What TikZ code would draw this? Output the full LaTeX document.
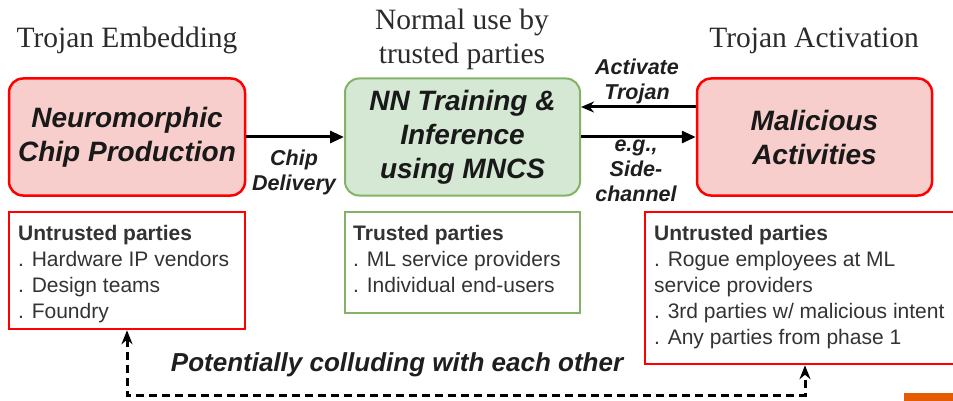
\documentclass[tikz,border=0pt]{standalone}
\usepackage{fontspec}
\setmainfont{Liberation Serif}
\newfontfamily\arialf{Liberation Sans}
\usetikzlibrary{arrows.meta}
\definecolor{redb}{HTML}{FF0000}
\definecolor{pinkf}{HTML}{F8CECC}
\definecolor{greenb}{HTML}{82B366}
\definecolor{greenf}{HTML}{D5E8D4}
\definecolor{txtgray}{HTML}{333333}
\definecolor{titlegray}{HTML}{2B2B2B}
\definecolor{orangebar}{HTML}{E65C00}
\tikzset{
  phasebox/.style={rectangle, rounded corners=14pt, minimum width=236pt, minimum height=117pt, line width=2.5pt, inner sep=0pt, align=center, text=black!90,
    font=\arialf\bfseries\itshape\fontsize{28}{34}\selectfont},
  redphase/.style={phasebox, draw=redb, fill=pinkf},
  greenphase/.style={phasebox, draw=greenb, fill=greenf, line width=2pt},
  partybox/.style={rectangle, minimum width=236pt, line width=2.5pt, inner sep=0pt, fill=white},
  partytext/.style={anchor=north west, inner sep=0pt, align=left, text=txtgray, font=\arialf\fontsize{21}{26}\selectfont},
  titletext/.style={align=center, text=titlegray, font=\fontsize{29.5}{34}\selectfont},
  arrowlabel/.style={align=center, text=black!88, inner sep=0pt, font=\arialf\bfseries\itshape\fontsize{21.5}{25}\selectfont},
  mainarrow/.style={line width=3pt, -{Triangle[length=14pt,width=12pt]}},
  backarrow/.style={line width=3pt, -{Stealth[length=13pt,width=11pt]}},
  colludearrow/.style={line width=3pt, dash pattern=on 8pt off 5pt, {Stealth[length=14pt,width=11pt]}-{Stealth[length=14pt,width=11pt]}}
}
\begin{document}
\begin{tikzpicture}[x=1pt,y=-1pt]
\useasboundingbox (0,0) rectangle (953,401);
% titles
\node[titletext, anchor=base] (t1) at (127,48) {Trojan Embedding};
\node[titletext] (t2) at (462,39) {Normal use by\\trusted parties};
\node[titletext, anchor=base] (t3) at (814,48) {Trojan Activation};
% phase boxes
\node[redphase] (p1) at (127,137) {Neuromorphic\\Chip Production};
\node[greenphase, minimum width=235pt] (p2) at (462.5,137) {NN Training \&\\Inference\\using MNCS};
\node[redphase, minimum width=235pt] (p3) at (814.5,137) {Malicious\\Activities};
% arrows
\draw[mainarrow] (p1.east) -- (p2.west);
\draw[backarrow] ([yshift=30pt]p3.west) -- ([yshift=30pt]p2.east);
\draw[mainarrow] (p2.east) -- (p3.west);
\node[arrowlabel] (l1) at (294,172) {Chip\\Delivery};
\node[arrowlabel] (l2) at (637,81) {Activate\\Trojan};
\node[arrowlabel] (l3) at (636,171) {e.g.,\\Side-\\channel};
% party boxes
\node[partybox, draw=redb, minimum height=117pt] (b1) at (127,270.5) {};
\node[partybox, draw=greenb, line width=2pt, minimum width=235pt, minimum height=101pt] (b2) at (462.5,262.5) {};
\node[partybox, draw=redb, minimum width=320pt, minimum height=152pt] (b3) at (805,288) {};
\node[partytext] (x1) at (18,225) {\textbf{Untrusted parties}\\. Hardware IP vendors\\. Design teams\\. Foundry};
\node[partytext] (x2) at (353,225) {\textbf{Trusted parties}\\. ML service providers\\. Individual end-users};
\node[partytext] (x3) at (654,225) {\textbf{Untrusted parties}\\. Rogue employees at ML\\service providers\\. 3rd parties w/ malicious intent\\. Any parties from phase 1};
% colluding
\coordinate (c1) at (127,395);
\coordinate (c2) at (805,395);
\draw[colludearrow] (b1.south) -- (c1) -- (c2) -- (b3.south);
\node[anchor=base, inner sep=0pt, text=black!88, font=\arialf\bfseries\itshape\fontsize{26}{30}\selectfont] (cl) at (397,371) {Potentially colluding with each other};
% orange bar
\fill[orangebar] (904,393) rectangle (953,401);
\end{tikzpicture}
\end{document}
